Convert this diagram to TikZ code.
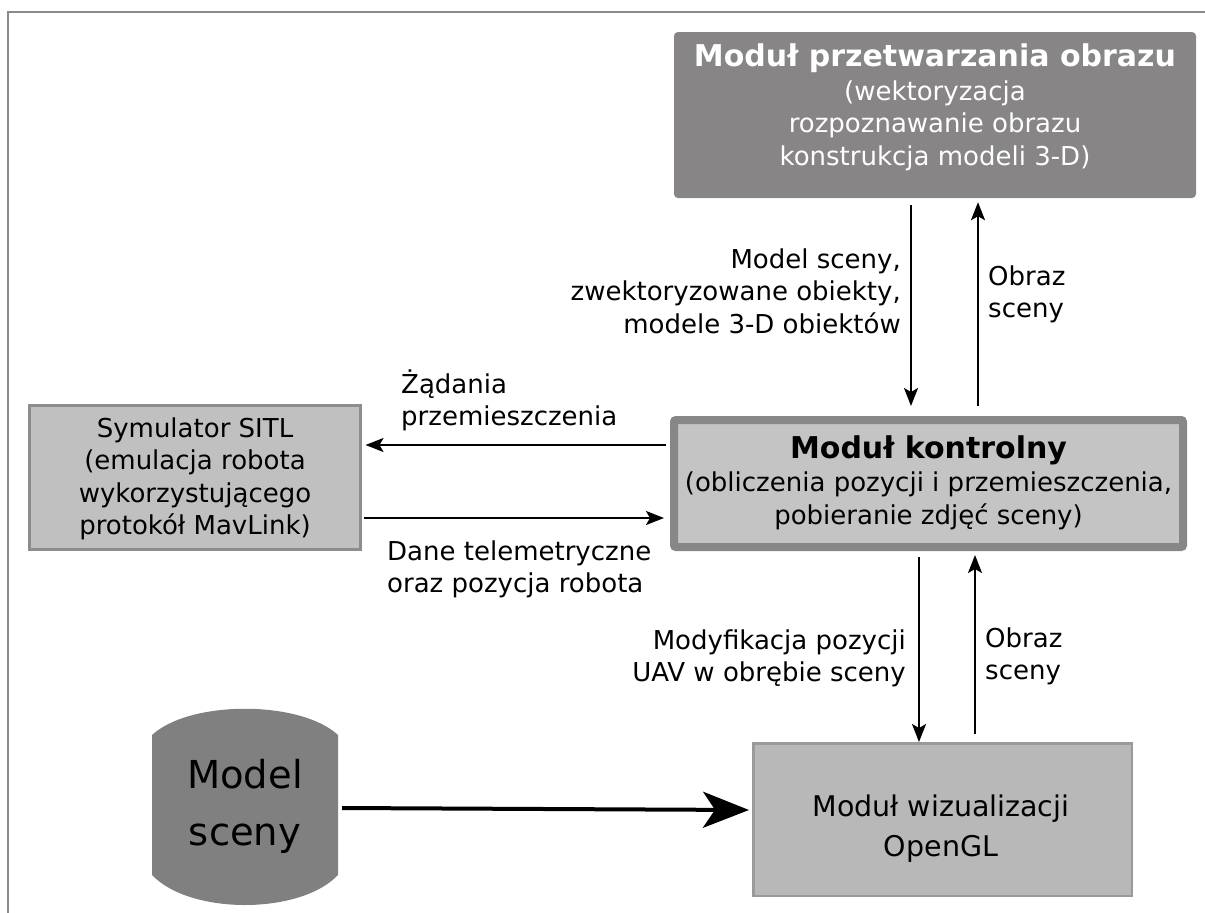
\documentclass[tikz,border=0pt]{standalone}
\usepackage{fontspec}
\setmainfont{DejaVu Sans}
\usetikzlibrary{arrows.meta}
\definecolor{framegray}{RGB}{138,138,138}
\definecolor{procfill}{RGB}{135,133,133}
\definecolor{ctrlfill}{RGB}{196,196,196}
\definecolor{ctrlborder}{RGB}{135,135,135}
\definecolor{sitlfill}{RGB}{192,192,192}
\definecolor{sitlborder}{RGB}{141,141,141}
\definecolor{glfill}{RGB}{184,184,184}
\definecolor{glborder}{RGB}{154,154,154}
\definecolor{dbgray}{RGB}{128,128,128}
\begin{document}
\begin{tikzpicture}[x=1pt,y=-1pt,
  box/.style={rectangle, inner sep=0pt},
  body/.style={font=\fontsize{26}{32.5}\selectfont, inner sep=0pt},
  headline/.style={font=\fontsize{30}{36}\selectfont\bfseries, inner sep=0pt},
  link/.style={line width=2pt, -{Stealth[length=18pt,width=14pt,inset=4pt]}},
  biglink/.style={line width=4pt, -{Stealth[length=46pt,width=36pt,inset=12pt]}},
]
\useasboundingbox (0,0) rectangle (1205,913);
% outer frame
\draw[framegray, line width=2.5pt] (8,913) -- (8,12) -- (1205,12);

% image processing module (multi-line nodes are anchored at their last baseline)
\node[box, fill=procfill, rounded corners=4pt, minimum width=522pt, minimum height=166pt] (proc) at (935,115) {};
\node[headline, text=white, anchor=base] (proctitle) at (935,66) {Moduł przetwarzania obrazu};
\node[body, text=white, align=center, anchor=base] (procsub) at (935,165) {(wektoryzacja\\rozpoznawanie obrazu\\konstrukcja modeli 3-D)};

% control module
\node[box, fill=ctrlfill, draw=ctrlborder, line width=8pt, rounded corners=2pt, minimum width=509pt, minimum height=127pt] (ctrl) at (928.5,483.5) {};
\node[headline, anchor=base] (ctrltitle) at (928.5,458) {Moduł kontrolny};
\node[body, align=center, anchor=base] (ctrlsub) at (928.5,524) {(obliczenia pozycji i przemieszczenia,\\pobieranie zdjęć sceny)};

% SITL simulator
\node[box, fill=sitlfill, draw=sitlborder, line width=3pt, minimum width=331pt, minimum height=144pt] (sitl) at (195,477.5) {};
\node[body, align=center, anchor=base] (sitltext) at (195,534.5) {Symulator SITL\\(emulacja robota\\wykorzystującego\\protokół MavLink)};

% OpenGL visualisation module
\node[box, fill=glfill, draw=glborder, line width=2.5pt, minimum width=378.5pt, minimum height=152.5pt] (gl) at (942.5,819.5) {};
\node[font=\fontsize{28.5}{40}\selectfont, inner sep=0pt, align=center, anchor=base] (gltext) at (941,856) {Moduł wizualizacji\\OpenGL};

% scene model store
\fill[dbgray] (152,735) .. controls (190,700) and (300,700) .. (338,735) -- (338,875)
  .. controls (300,915) and (190,915) .. (152,875) -- cycle;
\node[inner sep=0pt, minimum width=186pt, minimum height=197pt, font=\fontsize{38.5}{57}\selectfont, align=center] (cyl) at (245,806.5) {Model\\sceny};

% connector labels
\node[body, align=right, anchor=base east] (lblmodel) at (901,333) {Model sceny,\\zwektoryzowane obiekty,\\modele 3-D obiektów};
\node[body, align=left, anchor=base west] (lblimgup) at (988,317.5) {Obraz\\sceny};
\node[body, align=left, anchor=base west] (lblreq) at (401,425.5) {Żądania\\przemieszczenia};
\node[body, align=left, anchor=base west] (lbltel) at (387,592.5) {Dane telemetryczne\\oraz pozycja robota};
\node[body, align=right, anchor=base east] (lblmove) at (906,681.5) {Modyfikacja pozycji\\UAV w obrębie sceny};
\node[body, align=left, anchor=base west] (lblimgdn) at (985,679.5) {Obraz\\sceny};

% connectors
\draw[link] ([xshift=-24pt,yshift=-7pt]proc.south) -- ([xshift=-17.5pt,yshift=10pt]ctrl.north);
\draw[link] ([xshift=49.5pt,yshift=10pt]ctrl.north) -- ([xshift=43pt,yshift=-4pt]proc.south);
\draw[link] ([xshift=-4pt,yshift=38.5pt]ctrl.west) -- ([xshift=3.5pt,yshift=32.5pt]sitl.east);
\draw[link] ([xshift=1.5pt,yshift=-40.5pt]sitl.east) -- ([xshift=-6pt,yshift=-34.5pt]ctrl.west);
\draw[link] ([xshift=-9.5pt,yshift=-6pt]ctrl.south) -- ([xshift=-23.5pt]gl.north);
\draw[link] ([xshift=32.5pt,yshift=8pt]gl.north) -- ([xshift=46.5pt,yshift=-4pt]ctrl.south);
\draw[biglink] ([xshift=4pt,yshift=-1.5pt]cyl.east) -- ([xshift=-3pt,yshift=9.5pt]gl.west);
\end{tikzpicture}
\end{document}
